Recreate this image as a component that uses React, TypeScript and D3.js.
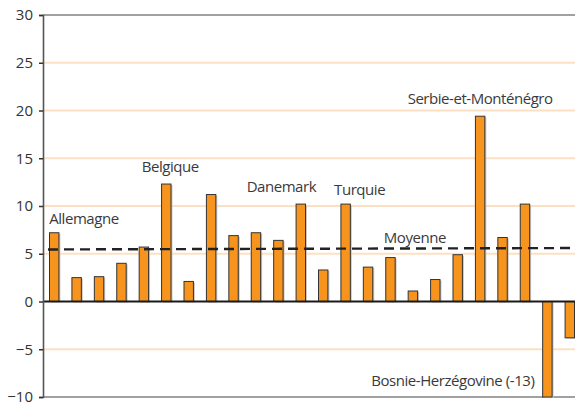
import { useRef, useEffect } from "react";
import * as d3 from "d3";

const WIDTH = 575;
const HEIGHT = 407;

// one bar per country, only some are named on the chart
const countries = [
  "Allemagne", "c2", "c3", "c4", "c5", "Belgique", "c7", "c8", "c9", "Danemark",
  "c11", "c12", "c13", "Turquie", "c15", "c16", "c17", "c18", "c19",
  "Serbie-et-Monténégro", "c21", "c22", "Bosnie-Herzégovine", "c24",
];
const values = [
  7.2, 2.5, 2.6, 4.0, 5.7, 12.3, 2.1, 11.2, 6.9, 7.2, 6.4, 10.2,
  3.3, 10.2, 3.6, 4.6, 1.1, 2.3, 4.9, 19.4, 6.7, 10.2, -13, -3.8,
];
const yTicks = [-10, -5, 0, 5, 10, 15, 20, 25, 30];
const meanStart = 5.45;
const meanEnd = 5.6;

// annotation text, anchored on a bar index and a value
const labels = [
  { text: "Allemagne", bar: 0, value: 8.1, anchor: "start", dx: -5 },
  { text: "Belgique", bar: 5, value: 13.6, anchor: "middle", dx: 4 },
  { text: "Danemark", bar: 10, value: 11.5, anchor: "middle", dx: 3 },
  { text: "Turquie", bar: 13, value: 11.2, anchor: "middle", dx: 14 },
  { text: "Serbie-et-Monténégro", bar: 19, value: 20.7, anchor: "middle", dx: 0 },
  { text: "Moyenne", bar: 16, value: 6.1, anchor: "middle", dx: 2 },
  { text: "Bosnie-Herzégovine (-13)", bar: 22, value: -8.8, anchor: "end", dx: -13 },
];

export default function App() {
  const svgRef = useRef<SVGSVGElement | null>(null);

  useEffect(() => {
    const svg = d3.select(svgRef.current);
    svg.selectAll("*").remove();

    const left = 43;
    const right = 575;
    const top = 15;
    const bottom = 397;
    const font = "'Open Sans', 'DejaVu Sans', sans-serif";

    // last bar sits flush against the right edge
    const x = d3.scaleBand<number>()
      .domain(d3.range(values.length))
      .range([left, 581])
      .paddingInner(0.58)
      .paddingOuter(0.29);
    const y = d3.scaleLinear().domain([-10, 30]).range([bottom, top]).clamp(true);

    // --- Grid lines ---
    svg.append("g")
      .selectAll("line")
      .data(yTicks.filter((t) => t !== 0 && t !== 30 && t !== -10))
      .join("line")
      .attr("x1", left)
      .attr("x2", right)
      .attr("y1", (d) => y(d))
      .attr("y2", (d) => y(d))
      .attr("stroke", "#fde0c2")
      .attr("stroke-width", 2);

    // frame top / bottom
    [30, -10].forEach((t) => {
      svg.append("line")
        .attr("x1", left).attr("x2", right)
        .attr("y1", y(t)).attr("y2", y(t))
        .attr("stroke", "#444").attr("stroke-width", 1.2);
    });

    // --- Bars ---
    const bw = x.bandwidth();
    const g = svg.append("g");
    values.forEach((v, i) => {
      const y0 = Math.min(y(v), y(0));
      const h = Math.abs(y(v) - y(0));
      g.append("rect")
        .attr("x", x(i)! + 1.5)
        .attr("y", y0 + 1)
        .attr("width", bw)
        .attr("height", h)
        .attr("fill", "#c8c8c8");
      g.append("rect")
        .attr("x", x(i)!)
        .attr("y", y0)
        .attr("width", bw)
        .attr("height", h)
        .attr("fill", "#f7941d")
        .attr("stroke", "#333")
        .attr("stroke-width", 1);
    });

    // zero line
    svg.append("line")
      .attr("x1", left).attr("x2", right)
      .attr("y1", y(0)).attr("y2", y(0))
      .attr("stroke", "#1a1a1a").attr("stroke-width", 1.8);

    // --- Y axis ---
    const axis = svg.append("g").attr("transform", `translate(${left},0)`)
      .call(d3.axisLeft(y).tickValues(yTicks).tickSize(4).tickPadding(6).tickFormat(d3.format("d")));
    axis.select(".domain").attr("stroke", "#555").attr("stroke-width", 1.6);
    axis.selectAll(".tick line").attr("stroke", "#333").attr("stroke-width", 1.5);
    axis.selectAll(".tick text")
      .attr("fill", "#333")
      .attr("font-family", font)
      .attr("font-size", "15px");

    // --- Mean line ---
    svg.append("line")
      .attr("x1", 48).attr("x2", right)
      .attr("y1", y(meanStart)).attr("y2", y(meanEnd))
      .attr("stroke", "#222")
      .attr("stroke-width", 2.4)
      .attr("stroke-dasharray", "10,6");

    // --- Labels ---
    labels.forEach((l) => {
      svg.append("text")
        .attr("x", x(l.bar)! + bw / 2 + l.dx)
        .attr("y", y(l.value))
        .attr("text-anchor", l.anchor)
        .attr("fill", "#3a3a3a")
        .attr("font-family", font)
        .attr("font-size", "15px")
        .attr("letter-spacing", "-0.45px")
        .text(l.text);
    });
  }, []);

  return (
    <div style={{ position: "absolute", left: 0, top: 0, background: "#fff" }}>
      <svg ref={svgRef} width={WIDTH} height={HEIGHT} style={{ display: "block" }} />
    </div>
  );
}
